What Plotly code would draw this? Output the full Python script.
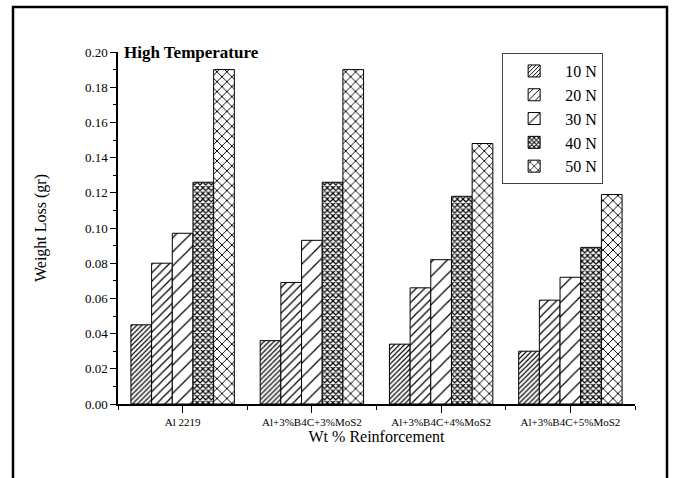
import plotly.graph_objects as go

categories = ["Al 2219", "Al+3%B4C+3%MoS2", "Al+3%B4C+4%MoS2", "Al+3%B4C+5%MoS2"]
loads = ["10 N", "20 N", "30 N", "40 N", "50 N"]
loss_10N = [0.045, 0.036, 0.034, 0.030]
loss_20N = [0.080, 0.069, 0.066, 0.059]
loss_30N = [0.097, 0.093, 0.082, 0.072]
loss_40N = [0.126, 0.126, 0.118, 0.089]
loss_50N = [0.190, 0.190, 0.148, 0.119]
series = [loss_10N, loss_20N, loss_30N, loss_40N, loss_50N]

patterns = [
    dict(shape="/", size=3.5, solidity=0.35),
    dict(shape="/", size=6, solidity=0.2),
    dict(shape="/", size=10, solidity=0.12),
    dict(shape="x", size=4, solidity=0.5),
    dict(shape="x", size=7, solidity=0.25),
]

FONT = "Liberation Serif"
xpos = list(range(len(categories)))

fig = go.Figure()
for name, vals, pat in zip(loads, series, patterns):
    fig.add_trace(go.Bar(
        x=xpos, y=vals, name=name,
        marker=dict(color="white", line=dict(color="black", width=1),
                    pattern=dict(fgcolor="black", bgcolor="white", fillmode="replace", **pat)),
    ))

fig.update_layout(
    width=674, height=478,
    margin=dict(l=118, r=39, t=52, b=74),
    paper_bgcolor="white", plot_bgcolor="white",
    barmode="group", bargap=0.2, bargroupgap=0,
    font=dict(family=FONT, color="black"),
    showlegend=True,
    legend=dict(
        x=0.743, y=0.997, xanchor="left", yanchor="top",
        bordercolor="#444", borderwidth=1, bgcolor="white",
        font=dict(family=FONT, size=16, color="black"),
        tracegroupgap=0, itemwidth=52,
    ),
    xaxis=dict(
        range=[-0.5, 3.5], tickmode="array", tickvals=xpos, ticktext=categories,
        showline=True, linecolor="black", linewidth=1.5, showgrid=False, zeroline=False,
        ticks="outside", ticklen=7, tickwidth=1.2, tickcolor="black",
        tickfont=dict(family=FONT, size=11),
        minor=dict(tickmode="array", tickvals=[-0.5, 0.5, 1.5, 2.5, 3.5],
                   ticks="outside", ticklen=4, tickwidth=1.2, tickcolor="black"),
        title=dict(text="Wt % Reinforcement", font=dict(family=FONT, size=16), standoff=4),
    ),
    yaxis=dict(
        range=[0, 0.2], dtick=0.02, tickformat=".2f",
        showline=True, linecolor="black", linewidth=1.5, showgrid=False, zeroline=False,
        ticks="outside", ticklen=6, tickwidth=1.2, tickcolor="black",
        tickfont=dict(family=FONT, size=13),
        minor=dict(dtick=0.01, ticks="outside", ticklen=3, tickwidth=1.2, tickcolor="black"),
        title=dict(text="Weight Loss (gr)", font=dict(family=FONT, size=16), standoff=34),
    ),
    annotations=[dict(
        text="<b>High Temperature</b>", xref="paper", yref="paper",
        x=0.008, y=1.0, xanchor="left", yanchor="middle", showarrow=False,
        font=dict(family=FONT, size=17, color="black"),
    )],
    shapes=[dict(
        type="rect", xref="paper", yref="paper",
        x0=(13 - 118) / 517, x1=(667 - 118) / 517,
        y0=(404 - 490) / 352, y1=(404 - 7) / 352,
        line=dict(color="black", width=2.5), fillcolor="rgba(0,0,0,0)", layer="below",
    )],
)

fig.write_html("out.html")
